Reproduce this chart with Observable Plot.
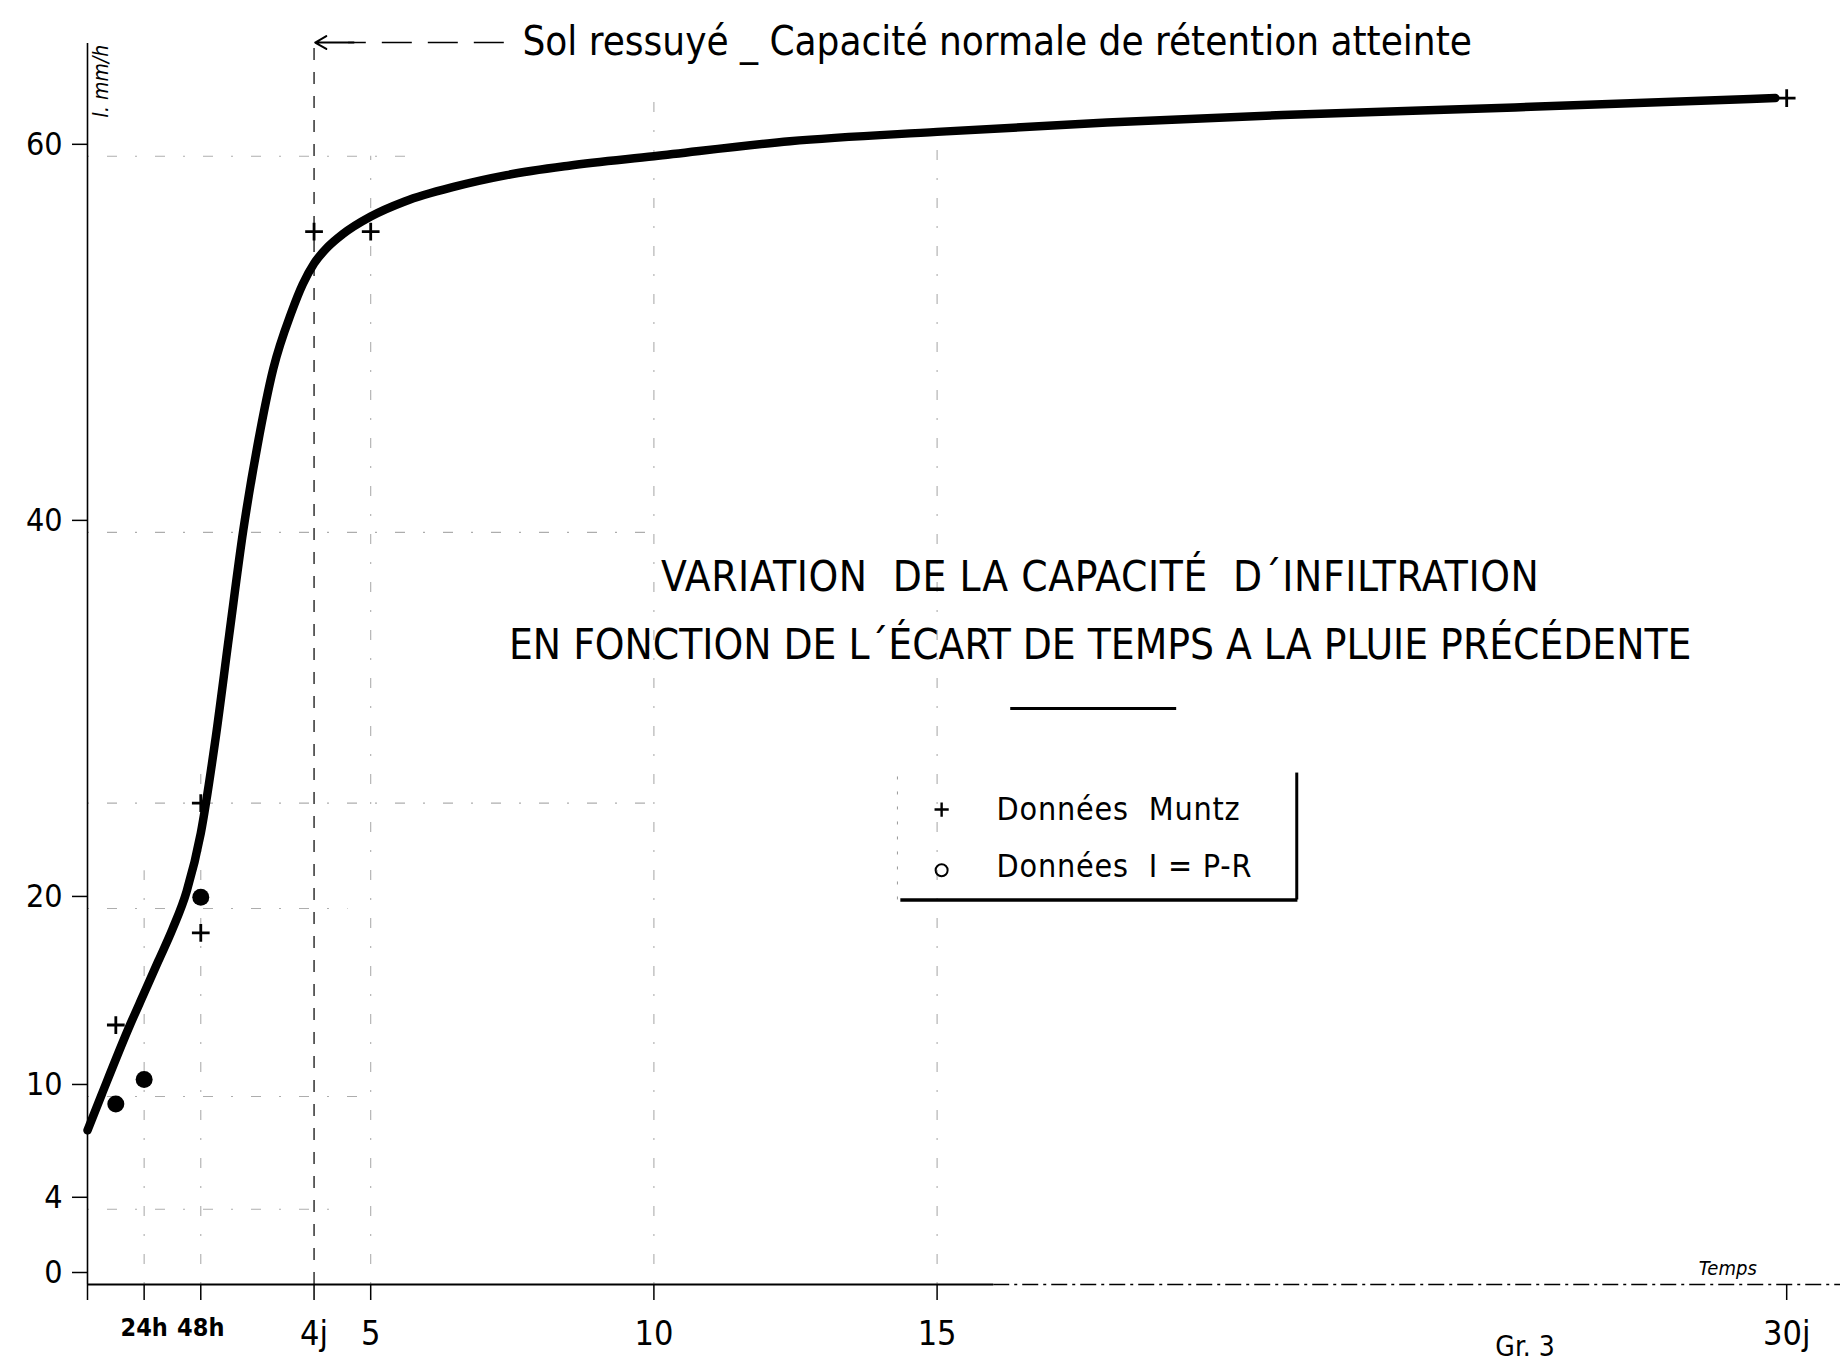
<!DOCTYPE html>
<html><head><meta charset="utf-8">
<script src="https://cdn.jsdelivr.net/npm/d3@7"></script>
<script src="https://cdn.jsdelivr.net/npm/@observablehq/plot@0.6"></script>
<style>
html,body{margin:0;padding:0;background:#fff;overflow:hidden;}
#chart svg{display:block;}
</style></head><body><div id="chart"></div>
<script>
// Fitted curve: time since previous rain (days) -> infiltration capacity (mm/h)
const curveDays   = [0, 0.25, 0.75, 1.0, 1.25, 1.5, 1.75, 2.0, 2.25, 2.5, 2.75, 3.0, 3.28, 3.6, 3.8, 4.0, 4.25, 4.5, 5.0, 5.6, 6.5, 7.4, 8.5, 10, 12.4, 15, 18, 21.1, 25.2, 29.8];
const curveValues = [8.2, 10.1, 13.8, 15.5, 17.2, 18.9, 20.9, 24.0, 28.8, 34.5, 40.1, 44.6, 48.7, 51.7, 53.2, 54.3, 55.2, 55.85, 56.8, 57.6, 58.4, 59.0, 59.5, 60.0, 60.8, 61.3, 61.8, 62.2, 62.6, 63.1];
// Données Muntz (+)
const muntzDays   = [0.5, 2, 2, 4, 5, 30];
const muntzValues = [13.8, 25.6, 18.7, 56.0, 56.0, 63.1];
// Données I = P-R (o)
const iprDays   = [0.5, 1, 2];
const iprValues = [9.6, 10.9, 20.6];
// Axis ticks
const xTicks      = [0, 1, 2, 4, 5, 10, 15, 30];
const xTickLabels = ["", "24h", "48h", "4j", "5", "10", "15", "30j"];
const yTicks      = [0, 4, 10, 20, 40, 60];
const yTickLabels = ["0", "4", "10", "20", "40", "60"];
// Construction grid lines (position, extent)
const gridX    = [1, 2, 5, 10, 15];
const gridXTop = [22, 28, 60, 63.5, 61.5];
const gridY    = [4, 10, 20, 25.6, 40, 60];
const gridYEnd = [4.5, 5, 4.6, 10, 10, 5.8];

const curve = curveDays.map((d, i) => ({day: d, value: curveValues[i]}));
const muntz = muntzDays.map((d, i) => ({day: d, value: muntzValues[i]}));
const ipr = iprDays.map((d, i) => ({day: d, value: iprValues[i]}));
const gx = gridX.map((d, i) => ({x: d, top: gridXTop[i]}));
const gy = gridY.map((d, i) => ({y: d, end: gridYEnd[i]}));
const xLab = d => xTickLabels[xTicks.indexOf(d)];
const yLab = d => yTickLabels[yTicks.indexOf(d)];

const cross = {draw(ctx, size) {const r = Math.sqrt(size) / 2; ctx.moveTo(-r, 0); ctx.lineTo(r, 0); ctx.moveTo(0, -r); ctx.lineTo(0, r);}};

const LET = "'DejaVu Sans Condensed', 'DejaVu Sans', sans-serif";
const NUM = "'Liberation Sans Narrow', 'DejaVu Sans Condensed', 'Liberation Sans', sans-serif";
const GRID = {stroke: "#333", strokeOpacity: 0.4, strokeWidth: 1.1, strokeDasharray: "2,18,10,18"};

const T1 = "VARIATION\u00a0 DE LA CAPACITÉ\u00a0 D´INFILTRATION";
const T2 = "EN FONCTION DE L´ÉCART DE TEMPS A LA PLUIE PRÉCÉDENTE";
const L1 = "Données\u00a0 Muntz";
const L2 = "Données\u00a0 I = P-R";

const chart = Plot.plot({
  width: 1844, height: 1372,
  marginLeft: 87, marginRight: 4, marginTop: 43, marginBottom: 88,
  x: {domain: [0, 30.95], axis: null},
  y: {domain: [0, 66], axis: null},
  style: {background: "white", color: "black", fontFamily: NUM, overflow: "hidden"},
  marks: [
    // faint construction grid
    Plot.ruleX(gx, {x: "x", y1: 0, y2: "top", ...GRID}),
    Plot.ruleY(gy, {y: "y", x1: 0, x2: "end", ...GRID}),
    Plot.ruleX([4], {y1: 0, y2: 66.05, stroke: "#111", strokeWidth: 1.3, strokeDasharray: "12,12"}),
    // axes lines
    Plot.ruleX([0], {y1: 0, y2: 66, stroke: "black", strokeWidth: 1.6}),
    Plot.ruleY([0], {x1: 0, x2: 16, stroke: "black", strokeWidth: 2}),
    Plot.ruleY([0], {x1: 16, x2: 30.95, stroke: "black", strokeWidth: 1.6, strokeDasharray: "16,5,3,5"}),
    Plot.axisY({ticks: yTicks, tickFormat: yLab, tickSize: 15, tickPadding: 10, fontSize: 32, dy: -12, label: null, strokeWidth: 1.5}),
    Plot.axisX({ticks: xTicks.filter(d => d === 0 || d >= 4), tickFormat: xLab, tickSize: 16, tickPadding: 20, fontSize: 34, label: null, strokeWidth: 1.5}),
    Plot.axisX({ticks: xTicks.filter(d => d === 1 || d === 2), tickFormat: xLab, tickSize: 16, tickPadding: 18, fontSize: 25, fontWeight: "bold", label: null, strokeWidth: 1.5}),
    // axis titles
    Plot.text(["I. mm/h"], {x: 0.25, y: 64.0, text: d => d, rotate: -90, fontSize: 21, fontStyle: "italic", fontFamily: LET}),
    Plot.text(["Temps"], {x: 28.96, y: 0.85, text: d => d, fontSize: 20, fontStyle: "italic", fontFamily: LET}),
    Plot.text(["Gr. 3"], {x: 25.38, y: -3.3, text: d => d, fontSize: 28, fontFamily: LET}),
    // top annotation
    Plot.link([0], {x1: 7.35, x2: 4.6, y1: 66.05, y2: 66.05, stroke: "black", strokeWidth: 1.6, strokeDasharray: "30,16"}),
    Plot.arrow([0], {x1: 4.7, x2: 4.02, y1: 66.05, y2: 66.05, stroke: "black", strokeWidth: 2, headLength: 12}),
    Plot.text(["Sol ressuyé _ Capacité normale de rétention atteinte"], {x: 7.68, y: 66.05, text: d => d, textAnchor: "start", fontSize: 40, fontFamily: LET}),
    // title
    Plot.text([T1], {x: 17.88, y: 37.6, text: d => d, fontSize: 42, fontFamily: LET}),
    Plot.text([T2], {x: 17.88, y: 34.0, text: d => d, fontSize: 42, fontFamily: LET}),
    Plot.ruleY([30.63], {x1: 16.3, x2: 19.23, stroke: "black", strokeWidth: 3}),
    // legend box
    Plot.ruleX([14.3], {y1: 20.45, y2: 27.2, stroke: "#333", strokeOpacity: 0.5, strokeDasharray: "3,12"}),
    Plot.ruleX([21.35], {y1: 20.45, y2: 27.2, stroke: "black", strokeWidth: 3}),
    Plot.ruleY([20.45], {x1: 14.36, x2: 21.37, stroke: "black", strokeWidth: 3.5}),
    Plot.dot([0], {x: 15.08, y: 25.26, symbol: cross, r: 8, stroke: "black", strokeWidth: 2.4}),
    Plot.dot([0], {x: 15.08, y: 22.03, r: 6, stroke: "black", strokeWidth: 2, fill: "none"}),
    Plot.text([L1], {x: 16.05, y: 25.26, text: d => d, textAnchor: "start", fontSize: 32, fontFamily: LET}),
    Plot.text([L2], {x: 16.05, y: 22.2, text: d => d, textAnchor: "start", fontSize: 32, fontFamily: LET}),
    // data
    Plot.line(curve, {x: "day", y: "value", curve: "monotone-x", stroke: "black", strokeWidth: 8.5}),
    Plot.dot(muntz, {x: "day", y: "value", symbol: cross, r: 10, stroke: "black", strokeWidth: 2.8}),
    Plot.dot(ipr, {x: "day", y: "value", r: 8.5, fill: "black", stroke: "none"})
  ]
});
// letter spacing to match the lettering-guide text widths
const spacing = {[T1]: 0.6, [L1]: 0.8, [L2]: 0.8};
d3.select(chart).selectAll("text").each(function() {
  const s = spacing[this.textContent];
  if (s) this.setAttribute("letter-spacing", s);
});
document.getElementById("chart").appendChild(chart);
</script></body></html>
